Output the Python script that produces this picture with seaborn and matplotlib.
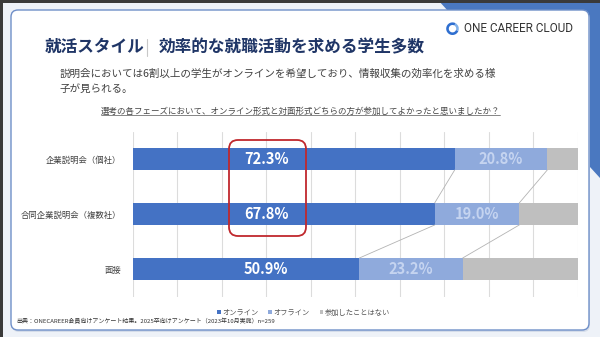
import numpy as np
import pandas as pd
import matplotlib
matplotlib.use("Agg")
import matplotlib.pyplot as plt
import seaborn as sns
from matplotlib.patches import FancyBboxPatch, Patch, Polygon, Rectangle, Wedge
from matplotlib.lines import Line2D
from matplotlib.transforms import Affine2D, IdentityTransform

# ---------------- data ----------------
categories = ["企業説明会（個社）", "合同企業説明会（複数社）", "面接"]
online = [72.3, 67.8, 50.9]
offline = [20.8, 19.0, 23.2]
never = [6.9, 13.2, 25.9]
series_names = ["オンライン", "オフライン", "参加したことはない"]
title_left = "就活スタイル"
title_right = "効率的な就職活動を求める学生多数"
subtitle_lines = ["説明会においては6割以上の学生がオンラインを希望しており、情報収集の効率化を求める様",
                  "子が見られる。"]
question = "選考の各フェーズにおいて、オンライン形式と対面形式どちらの方が参加してよかったと思いましたか？"
source = "出典：ONECAREER会員向けアンケート結果。2025卒向けアンケート（2023年10月実施）n=259"
brand = "ONE CAREER CLOUD"

colors = ["#4472C4", "#8FAADC", "#BFBFBF"]

sns.set_theme(style="white")
plt.rcParams['font.family'] = ['Noto Sans CJK JP', 'DejaVu Sans']

W, H, DPI = 600, 337, 100
fig = plt.figure(figsize=(W / DPI, H / DPI), dpi=DPI, facecolor="#eef2f8")
PX = Affine2D().scale(1 / DPI, -1 / DPI).translate(0, H / DPI) + fig.dpi_scale_trans

# ---------------- background decoration ----------------
fig.add_artist(Polygon([(438, 0), (600, 0), (600, 178)], closed=True, transform=PX,
                       fc="#4a78c0", ec="none", zorder=-10))
fig.add_artist(Rectangle((0, 0), 600, 2.5, transform=PX, fc="#3a3a3a", ec="none", zorder=-9))
fig.add_artist(Rectangle((0, 0), 3, 337, transform=PX, fc="#3a3a3a", ec="none", zorder=-9))
fig.add_artist(FancyBboxPatch((12, 12), 578, 320, boxstyle="round,pad=0,rounding_size=7",
                              transform=PX, fc="#d5ddea", ec="none", zorder=-8))
fig.add_artist(FancyBboxPatch((11, 10), 578, 320, boxstyle="round,pad=0,rounding_size=7",
                              transform=PX, fc="white", ec="#6f8fc8", lw=1.0, zorder=-7))

# ---------------- chart ----------------
df = pd.DataFrame({"category": categories, "online": online,
                   "offline": offline, "never": never})
df["c_on"] = df["online"]
df["c_off"] = df["online"] + df["offline"]
df["c_all"] = df["c_off"] + df["never"]

ax = fig.add_axes([132.8 / W, 1 - 296.5 / H, 445.2 / W, 165 / H])
ax.set_facecolor("none")
for col, c in zip(["c_all", "c_off", "c_on"], colors[::-1]):
    sns.barplot(data=df, x=col, y="category", color=c, width=0.4, saturation=1,
                linewidth=0, errorbar=None, orient="h", ax=ax)

ax.set_xlim(0, 100)
ax.set_ylim(2.5, -0.5)
ax.set_xticks(np.arange(0, 101, 10))
ax.xaxis.grid(True, color="#dcdcdc", lw=0.8)
ax.yaxis.grid(False)
ax.set_axisbelow(True)
ax.tick_params(axis="x", labelbottom=False, length=0)
ax.tick_params(axis="y", length=0, pad=8.6, labelsize=6, labelcolor="#404040")
ax.set_xlabel("")
ax.set_ylabel("")
for s in ax.spines.values():
    s.set_visible(False)

# connector lines
for i in range(len(categories) - 1):
    for col in ["c_on", "c_off"]:
        ax.plot([df[col][i], df[col][i + 1]], [i + 0.2, i + 0.8],
                color="#b3b3b3", lw=0.6, zorder=1)

# value labels
for i in range(len(categories)):
    ax.text(30, i, f"{online[i]:.1f}%", ha="center", va="center", color="white",
            fontsize=10.5, fontweight="bold", zorder=4)
    ax.text(online[i] + offline[i] / 2, i, f"{offline[i]:.1f}%", ha="center",
            va="center", color="#c5d4f0", fontsize=10.5, fontweight="bold", zorder=4)

# highlight box
fig.add_artist(FancyBboxPatch((229, 140), 77, 96, boxstyle="round,pad=0,rounding_size=9",
                              transform=PX, fc="none", ec="#c0282d", lw=1.3, zorder=5))

# ---------------- texts ----------------
fig.text(45, 47, title_left, transform=PX, fontsize=12, fontweight="bold",
         color="#1f3566", va="center", ha="left")
fig.add_artist(Line2D([146.5, 146.5], [39, 56], transform=PX, color="#c8c8c8", lw=0.8))
fig.text(159, 47, title_right, transform=PX, fontsize=12, fontweight="bold",
         color="#1f3566", va="center", ha="left")

fig.text(60, 74, subtitle_lines[0], transform=PX, fontsize=7.6, color="#404040",
         va="center", ha="left")
fig.text(60, 89, subtitle_lines[1], transform=PX, fontsize=7.6, color="#404040",
         va="center", ha="left")

qt = fig.text(300.5, 111, question, transform=PX, fontsize=6.1, color="#444444",
              va="center", ha="center")

fig.text(16, 321.5, source, transform=PX, fontsize=4.3, color="#333333",
         va="center", ha="left")

# brand
fig.add_artist(Wedge((452.5, 28.7), 6.3, 20, 300, width=2.6, transform=PX,
                     fc="#2f6fd0", ec="none"))
fig.add_artist(Wedge((452.5, 28.7), 6.3, 300, 380, width=2.6, transform=PX,
                     fc="#7fb0ea", ec="none"))
fig.text(463.5, 29, brand, transform=PX, fontsize=8.5, color="#333333",
         family=["Roboto", "DejaVu Sans"], va="center", ha="left")

# legend
handles = [Patch(fc=c, ec="none") for c in colors]
fig.legend(handles, series_names, loc="center", bbox_to_anchor=(303.5 / W, 1 - 312.5 / H),
           ncol=3, frameon=False, fontsize=5.2, handlelength=0.5, handleheight=0.5,
           handletextpad=0.2, columnspacing=1.4, labelcolor="#555555")

# underline of the question
fig.canvas.draw()
bb = qt.get_window_extent()
fig.add_artist(Line2D([bb.x0, bb.x1], [bb.y0 + 0.8, bb.y0 + 0.8],
                      transform=IdentityTransform(), color="#555555", lw=0.5))

fig.savefig("out.png", dpi=DPI, facecolor=fig.get_facecolor())
